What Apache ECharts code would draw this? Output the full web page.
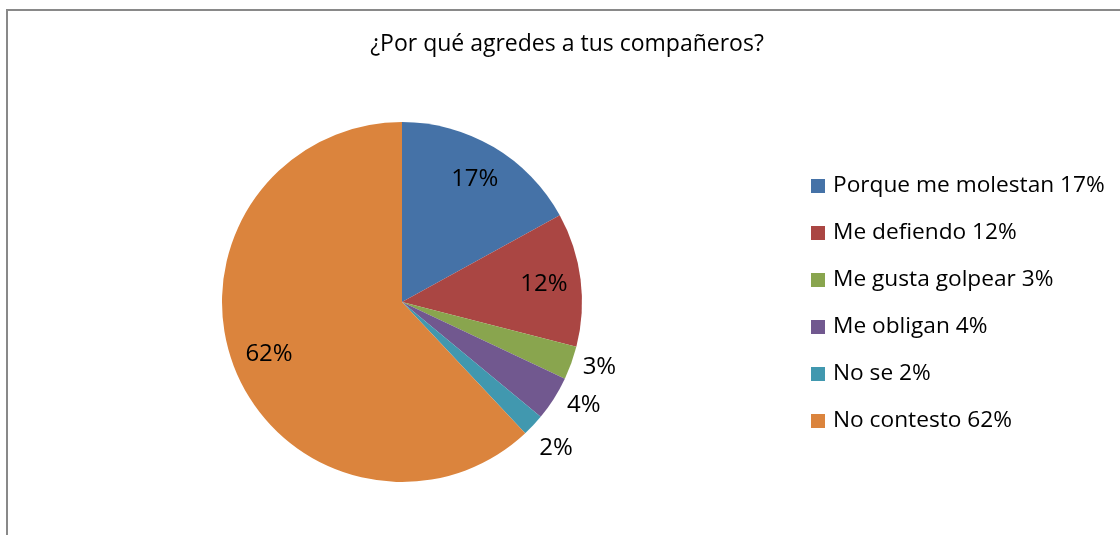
<!DOCTYPE html>
<html>
<head>
<meta charset="utf-8">
<script src="https://cdn.jsdelivr.net/npm/echarts@6/dist/echarts.min.js"></script>
<style>
  html, body { margin: 0; padding: 0; background: #fff; }
  #chart-panel { width: 1120px; height: 535px; }
</style>
</head>
<body>
<div id="chart-panel"></div>
<script>
// datos del gráfico
var categories = ['Porque me molestan', 'Me defiendo', 'Me gusta golpear', 'Me obligan', 'No se', 'No contesto'];
var values = [17, 12, 3, 4, 2, 62];
var colors = ['#4572A7', '#AA4643', '#89A54E', '#71588F', '#4198AF', '#DB843D'];
// etiquetas dentro (true) o fuera (false) del sector
var labelInside = [true, true, false, false, false, true];

var fontName = 'Open Sans';
var cx = 402, cy = 302, r = 180;

// ajustes de las etiquetas exteriores: [length, distance]
var outerLabelTweak = {
    2: [12, 0],
    3: [13, 2],
    4: [33, -18]
};

var mainData = categories.map(function (name, i) {
    var item = {
        name: name,
        value: values[i],
        itemStyle: { color: colors[i] }
    };
    if (labelInside[i]) {
        item.label = { show: false };
    } else {
        var t = outerLabelTweak[i];
        item.label = { show: true, position: 'outside', distanceToLabelLine: t[1] };
        item.labelLine = { show: false, length: t[0], length2: 0 };
    }
    return item;
});

var innerData = categories.map(function (name, i) {
    return {
        name: name,
        value: values[i],
        label: { show: labelInside[i] }
    };
});

var chartOption = {
    backgroundColor: '#fff',
    animation: false,
    title: {
        text: '¿Por qué agredes a tus compañeros?',
        left: 562,
        top: 28,
        textAlign: 'center',
        textStyle: {
            fontFamily: fontName,
            fontWeight: 'normal',
            fontSize: 23,
            color: '#000'
        }
    },
    legend: {
        orient: 'vertical',
        left: 811,
        top: 174,
        padding: 0,
        icon: 'rect',
        itemWidth: 14,
        itemHeight: 14,
        itemGap: 23,
        selectedMode: false,
        data: categories,
        formatter: function (name) {
            return name + ' ' + values[categories.indexOf(name)] + '%';
        },
        textStyle: {
            fontFamily: fontName,
            fontSize: 22.7,
            lineHeight: 24,
            color: '#000',
            padding: [0, 0, 0, 3]
        }
    },
    graphic: [{
        type: 'rect',
        silent: true,
        shape: { x: 7, y: 10, width: 1300, height: 700 },
        style: { fill: 'none', stroke: '#898989', lineWidth: 2 }
    }],
    series: [{
        type: 'pie',
        center: [cx, cy],
        radius: [0, r],
        startAngle: 90,
        clockwise: true,
        avoidLabelOverlap: false,
        silent: true,
        itemStyle: { borderWidth: 0 },
        label: {
            fontFamily: fontName,
            fontSize: 24,
            color: '#000',
            formatter: '{c}%'
        },
        data: mainData
    }, {
        // anillo transparente solo para situar las etiquetas interiores
        type: 'pie',
        center: [cx, cy],
        radius: [100, r],
        startAngle: 90,
        clockwise: true,
        avoidLabelOverlap: false,
        silent: true,
        itemStyle: { color: 'rgba(0,0,0,0)', borderWidth: 0 },
        emphasis: { disabled: true },
        labelLine: { show: false },
        label: {
            position: 'inside',
            fontFamily: fontName,
            fontSize: 24,
            color: '#000',
            formatter: '{c}%'
        },
        data: innerData
    }]
};

var chartPanel = document.getElementById('chart-panel');
var myChart = echarts.init(chartPanel);
myChart.setOption(chartOption);
</script>
</body>
</html>
